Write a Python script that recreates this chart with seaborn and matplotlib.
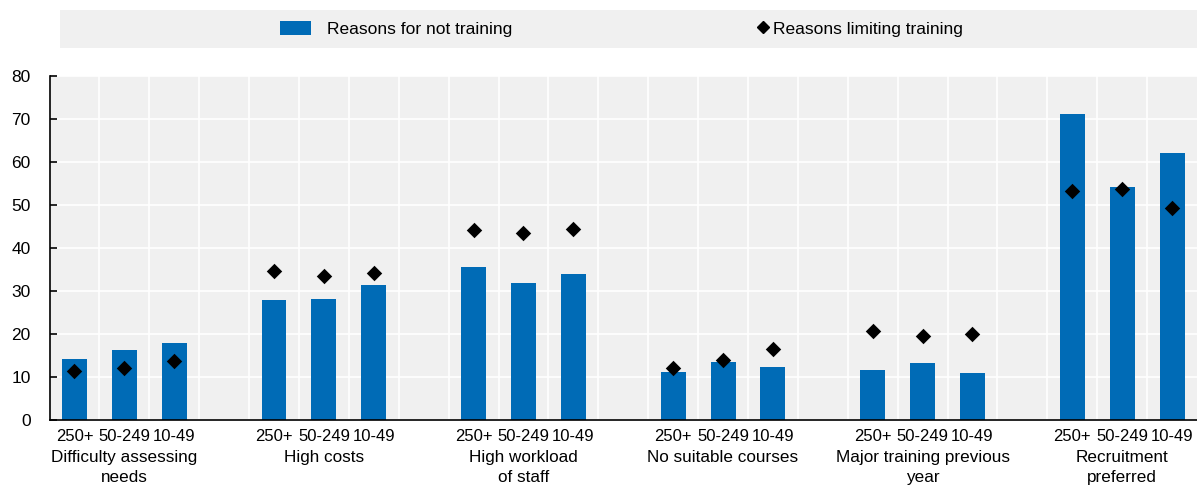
import numpy as np
import pandas as pd
import matplotlib
matplotlib.use("Agg")
import matplotlib.pyplot as plt
import seaborn as sns
from matplotlib.patches import Rectangle, Patch
from matplotlib.lines import Line2D

# ---- data ----
categories = ["Difficulty assessing\nneeds", "High costs", "High workload\nof staff",
              "No suitable courses", "Major training previous\nyear", "Recruitment\npreferred"]
sizes = ["250+", "50-249", "10-49"]
not_training = [14.1, 16.2, 18.0,
                27.8, 28.1, 31.5,
                35.5, 31.9, 34.0,
                11.2, 13.6, 12.4,
                11.6, 13.3, 10.9,
                71.2, 54.3, 62.0]
limiting_training = [11.4, 12.0, 13.7,
                     34.6, 33.6, 34.3,
                     44.2, 43.5, 44.4,
                     12.1, 14.0, 16.5,
                     20.7, 19.5, 20.0,
                     53.2, 53.7, 49.2]
series_labels = ["Reasons for not training", "Reasons limiting training"]

BLUE = "#006BB6"
BG = "#F0F0F0"

sns.set_style("white", {"axes.facecolor": BG, "text.color": "black",
                        "xtick.color": "black", "ytick.color": "black",
                        "axes.labelcolor": "black"})
plt.rcParams["font.family"] = ["Liberation Sans", "DejaVu Sans"]

n_groups = len(categories)
n_sizes = len(sizes)
slot = n_sizes + 1
positions = [g * slot + s for g in range(n_groups) for s in range(n_sizes)]
df = pd.DataFrame({
    "pos": positions,
    "size": sizes * n_groups,
    "not_training": not_training,
    "limiting": limiting_training,
})

W, H = 1197, 490
fig = plt.figure(figsize=(W / 100, H / 100), dpi=100)
ax = fig.add_axes([49.5 / W, 70 / H, (W - 49.5) / W, 344 / H])

sns.barplot(data=df, x="pos", y="not_training", native_scale=True, width=0.5,
            color=BLUE, saturation=1, errorbar=None, linewidth=0, ax=ax, zorder=2)
sns.scatterplot(data=df, x="pos", y="limiting", marker="D", color="black",
                s=62, linewidth=0, ax=ax, zorder=3)

n_slots = n_groups * slot - 1
ax.set_xlim(-0.5, n_slots - 0.5)
ax.set_ylim(0, 80)
ax.set_yticks(np.arange(0, 81, 10))
ax.set_xticks(positions)
ax.set_xticklabels(sizes * n_groups, fontsize=12)
ax.set_xticks(np.arange(0.5, n_slots - 0.5, 1), minor=True)
ax.set_xlabel("")
ax.set_ylabel("")
if ax.get_legend():
    ax.get_legend().remove()

ax.set_axisbelow(True)
ax.grid(False)
ax.grid(axis="y", which="major", color="white", linewidth=1.2)
ax.grid(axis="x", which="minor", color="white", linewidth=1.2)

for sp in ["top", "right"]:
    ax.spines[sp].set_visible(False)
for sp in ["left", "bottom"]:
    ax.spines[sp].set_color("black")
    ax.spines[sp].set_linewidth(1.2)

ax.tick_params(axis="x", which="both", length=0, pad=6.5, labelsize=12, labelcolor="black")
ax.tick_params(axis="y", which="major", direction="in", length=5, width=1.2,
               color="black", pad=13.5, labelsize=12.5, left=True, labelcolor="black")

for g, cat in enumerate(categories):
    ax.annotate(cat, xy=(g * slot + 1, 0), xycoords=("data", "axes fraction"),
                xytext=(0, -30), textcoords="offset pixels", ha="center", va="top",
                fontsize=12.3, linespacing=1.4, color="black")

# legend band
fig.patches.append(Rectangle((60 / W, 1 - 48 / H), (W - 60) / W, 38 / H,
                             transform=fig.transFigure, facecolor=BG,
                             edgecolor="none", zorder=0))
leg1 = fig.legend(handles=[Patch(facecolor=BLUE, edgecolor="none")],
                  labels=[series_labels[0]], loc="center left",
                  bbox_to_anchor=(280 / W, 1 - 29 / H), frameon=False,
                  handlelength=1.8, handleheight=0.9, handletextpad=0.9,
                  borderpad=0, borderaxespad=0, fontsize=12.5)
leg2 = fig.legend(handles=[Line2D([], [], marker="D", color="black", linestyle="None",
                                  markersize=6.5)],
                  labels=[series_labels[1]], loc="center left",
                  bbox_to_anchor=(754 / W, 1 - 29 / H), frameon=False,
                  handlelength=1.0, handletextpad=0.1,
                  borderpad=0, borderaxespad=0, fontsize=12.5)

fig.savefig("out.png", dpi=100, facecolor="white")
